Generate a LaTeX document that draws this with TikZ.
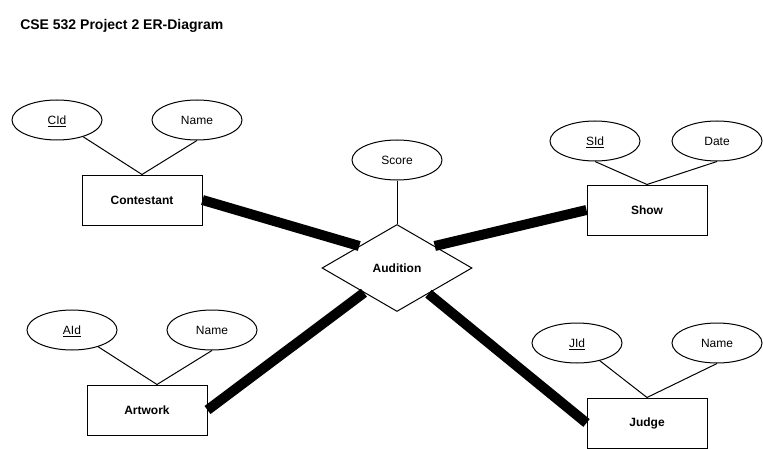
\documentclass[tikz,border=0pt]{standalone}
\usepackage{fontspec}
\setmainfont{Liberation Sans}
\usetikzlibrary{shapes.geometric}

\begin{document}
\begin{tikzpicture}[x=0.75pt, y=-0.75pt,
    entity/.style={shape=rectangle, draw=black, line width=0.75pt, minimum width=90pt, minimum height=37.5pt, font=\fontsize{9}{11}\selectfont\bfseries},
    attr/.style={shape=ellipse, draw=black, line width=0.75pt, minimum width=67.5pt, minimum height=30pt, inner sep=0pt, text height=6.5pt, text depth=0pt, font=\fontsize{9}{11}\selectfont},
    rel/.style={shape=diamond, draw=black, line width=0.75pt, minimum width=112.5pt, minimum height=65.25pt, aspect=1.72, inner sep=1pt, font=\fontsize{9}{11}\selectfont\bfseries},
    link/.style={line width=0.75pt},
    heavy/.style={line width=7.5pt}]
        \useasboundingbox (0,0) rectangle (763,449);
        \node[anchor=west, inner sep=0pt, font=\fontsize{10.5}{12}\selectfont\bfseries] (Title) at (20,26) {CSE 532 Project 2 ER-Diagram};
        % entities and the relationship
        \node[entity] (Con) at (142,200) {Contestant};
        \node[entity] (Show) at (647,210) {Show};
        \node[entity] (Art) at (147,410) {Artwork};
        \node[entity] (Judge) at (647,423) {Judge};
        \node[rel] (Aud) at (397,268) {Audition};
        % attributes
        \node[attr] (CId) at (57,120) {\underline{CId}};
        \node[attr] (CName) at (197,120) {Name};
        \node[attr] (Score) at (397,160) {Score};
        \node[attr] (SId) at (595,141) {\underline{SId}};
        \node[attr] (SDate) at (717,141) {Date};
        \node[attr] (AId) at (72,330) {\underline{AId}};
        \node[attr] (AName) at (212,330) {Name};
        \node[attr] (JId) at (577,343) {\underline{JId}};
        \node[attr] (JName) at (717,343) {Name};
        \draw[link] (CId) -- (Con.north);
        \draw[link] (CName.south) -- (Con.north);
        \draw[link] (Score) -- (Aud.north);
        \draw[link] (SId.south) -- (Show.north);
        \draw[link] (SDate.south) -- (Show.north);
        \draw[link] (AId) -- ([xshift=7.5pt]Art.north);
        \draw[link] (AName.south) -- ([xshift=7.5pt]Art.north);
        \draw[link] (JId) -- (Judge.north);
        \draw[link] (JName.south) -- (Judge.north);
        % participation
        \draw[heavy] (Con.east) -- (Aud.north west);
        \draw[heavy] (Aud.north east) -- (Show.west);
        \draw[heavy] (Art.east) -- (Aud);
        \draw[heavy] (Judge.west) -- (Aud);
    \end{tikzpicture}
\end{document}
